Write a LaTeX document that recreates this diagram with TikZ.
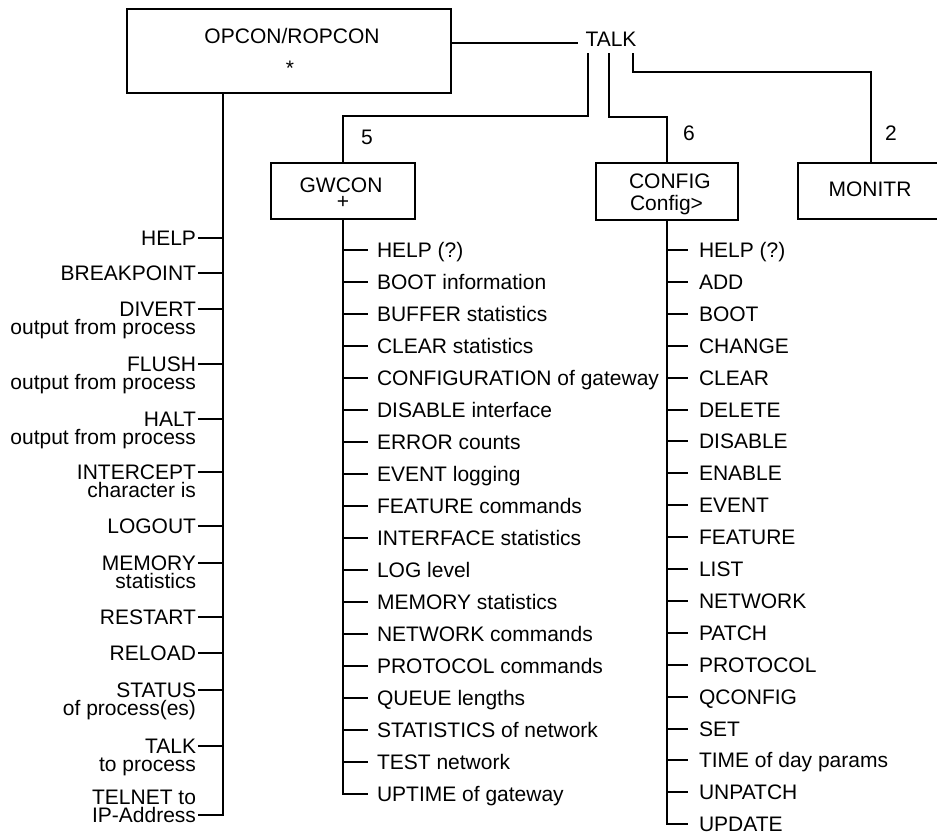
\documentclass[tikz,border=0pt]{standalone}
\usepackage{fontspec}
\setmainfont{Liberation Sans}
\usetikzlibrary{calc,fit}
\begin{document}
\begin{tikzpicture}[x=0.75pt,y=-0.75pt,
  line width=1.5pt,
  every node/.style={font=\fontsize{15.75}{18}\selectfont, inner sep=0pt},
  box/.style={draw, line width=1.5pt, inner sep=0pt},
  item/.style={text height=11.3pt, text depth=0pt},
  litem/.style={item, anchor=east},
  ritem/.style={item, anchor=west}]
\useasboundingbox (0,0) rectangle (937,835);

% boxes
\node[box, fit={(127,9) (451,93)}] (opcon) {};
\node[item] (opconT) at (292,35.5) {OPCON/ROPCON};
\node[anchor=base] (opconS) at (290,75) {*};

\node[item] (talk) at (611,38.5) {TALK};

\node[box, fit={(271,163) (415,219)}] (gwcon) {};
\node[item] (gwconT) at (341,185) {GWCON};
\node[anchor=base] (gwconP) at (343,208) {+};

\node[box, fit={(596,163) (738,220)}] (config) {};
\node[ritem] (configT) at (628,181) {CONFIG};
\node[ritem] (configP) at (629,203) {Config>};

\node[box, fit={(798,163) (944,219)}] (monitr) {};
\node[item] (monitrT) at (870,189) {MONITR};

\node[item] (n5) at (367,137) {5};
\node[item] (n6) at (689,133) {6};
\node[item] (n2) at (891,133) {2};

% top connectors
\draw ($(opcon.east)+(0,-8)$) -- ($(talk.west)+(-7,4.5)$);
\draw ($(talk.south)+(-23,6)$) -- ++(0,63) -| (gwcon.north);
\draw ($(talk.south)+(-2,6)$) -- ++(0,64) -| (config.north);
\draw ($(talk.south)+(22,6)$) -- ++(0,19) -| (monitr.north);

% left column
\node[litem] (l1) at (197,238) {HELP};
\node[litem] (l2) at (197,273) {BREAKPOINT};
\node[litem] (l3) at (197,309) {DIVERT};
\node[litem] (l3b) at (197,327) {output from process};
\node[litem] (l4) at (197,364) {FLUSH};
\node[litem] (l4b) at (197,382) {output from process};
\node[litem] (l5) at (197,419) {HALT};
\node[litem] (l5b) at (197,437) {output from process};
\node[litem] (l6) at (197,472) {INTERCEPT};
\node[litem] (l6b) at (197,490) {character is};
\node[litem] (l7) at (197,526) {LOGOUT};
\node[litem] (l8) at (197,563) {MEMORY};
\node[litem] (l8b) at (197,581) {statistics};
\node[litem] (l9) at (197,617) {RESTART};
\node[litem] (l10) at (197,653) {RELOAD};
\node[litem] (l11) at (197,690) {STATUS};
\node[litem] (l11b) at (197,708) {of process(es)};
\node[litem] (l12) at (197,746) {TALK};
\node[litem] (l12b) at (197,764) {to process};
\node[litem] (l13) at (197,797) {TELNET to};
\node[litem] (l13b) at (197,815) {IP-Address};

\coordinate (lv) at ($(opcon.south)+(-66,0)$);
\draw (lv) |- ($(l13b.east)+(1,0)$);
\foreach \n in {l1,l2,l3,l4,l5,l6,l7,l8,l9,l10,l11,l12}
  \draw ($(\n.east)+(1,0)$) -- (\n.east -| lv);

% GWCON column
\foreach \t [count=\i from 0] in {HELP (?),BOOT information,BUFFER statistics,CLEAR statistics,CONFIGURATION of gateway,DISABLE interface,ERROR counts,EVENT logging,FEATURE commands,INTERFACE statistics,LOG level,MEMORY statistics,NETWORK commands,PROTOCOL commands,QUEUE lengths,STATISTICS of network,TEST network,UPTIME of gateway}
  \node[ritem] (g\i) at (376,{250+32*\i}) {\t};
\foreach \i in {0,...,16}
  \draw (gwcon.south |- g\i.west) -- ($(g\i.west)+(-8,0)$);
\draw (gwcon.south) |- ($(g17.west)+(-8,0)$);

% CONFIG column
\foreach \t [count=\i from 0] in {HELP (?),ADD,BOOT,CHANGE,CLEAR,DELETE,DISABLE,ENABLE,EVENT,FEATURE,LIST,NETWORK,PATCH,PROTOCOL,QCONFIG,SET,TIME of day params,UNPATCH,UPDATE}
  \node[ritem] (c\i) at (698,{250+31.9*\i}) {\t};
\foreach \i in {0,...,17}
  \draw (config.south |- c\i.west) -- ($(c\i.west)+(-10,0)$);
\draw (config.south) |- ($(c18.west)+(-10,0)$);
\end{tikzpicture}
\end{document}
